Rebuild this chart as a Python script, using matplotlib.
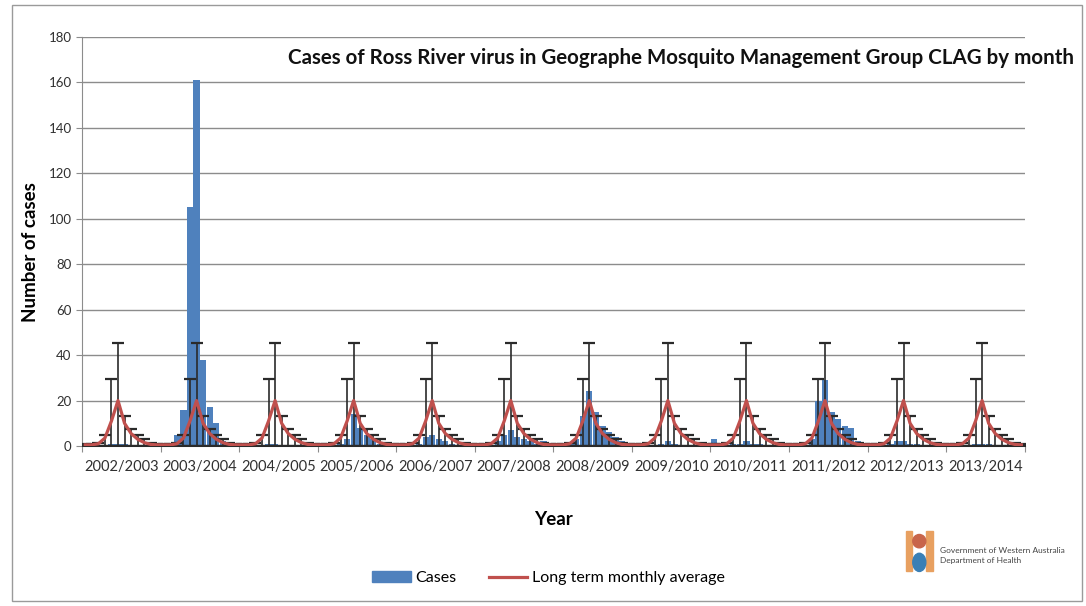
import numpy as np
import matplotlib
matplotlib.use("Agg")
import matplotlib.pyplot as plt
from matplotlib.patches import Rectangle, Ellipse

plt.rcParams['font.family'] = ['Lato', 'DejaVu Sans']

seasons = ["2002/2003", "2003/2004", "2004/2005", "2005/2006", "2006/2007", "2007/2008",
           "2008/2009", "2009/2010", "2010/2011", "2011/2012", "2012/2013", "2013/2014"]

# Monthly cases (July..June) per season
cases_2002_03 = [0, 0, 0, 0, 1, 1, 1, 0, 0, 0, 0, 0]
cases_2003_04 = [0, 0, 5, 16, 105, 161, 38, 17, 10, 2, 1, 0]
cases_2004_05 = [0, 0, 0, 0, 1, 1, 0, 0, 0, 0, 0, 0]
cases_2005_06 = [0, 0, 0, 1, 3, 14, 8, 5, 3, 1, 1, 0]
cases_2006_07 = [0, 0, 0, 1, 4, 5, 3, 2, 1, 0, 0, 0]
cases_2007_08 = [0, 0, 0, 2, 5, 7, 4, 3, 2, 1, 2, 0]
cases_2008_09 = [0, 0, 1, 3, 13, 24, 15, 9, 6, 4, 2, 0]
cases_2009_10 = [1, 0, 0, 0, 1, 2, 1, 0, 0, 0, 0, 0]
cases_2010_11 = [3, 0, 0, 1, 1, 2, 1, 1, 0, 0, 0, 0]
cases_2011_12 = [0, 0, 0, 3, 20, 29, 15, 12, 9, 8, 2, 0]
cases_2012_13 = [0, 0, 0, 1, 2, 2, 1, 1, 0, 0, 0, 0]
cases_2013_14 = [0, 0, 0, 0, 1, 1, 1, 0, 0, 0, 0, 0]

# Long term monthly average (July..June) and upper limit of its error bar
lt_average = [0.5, 0.5, 1.0, 3.5, 11.0, 20.0, 10.0, 5.5, 3.0, 1.5, 0.7, 0.5]
lt_upper = [0.8, 0.8, 1.5, 5.0, 29.5, 45.5, 13.0, 7.5, 5.0, 3.0, 1.5, 1.0]

all_cases = (cases_2002_03 + cases_2003_04 + cases_2004_05 + cases_2005_06 + cases_2006_07 +
             cases_2007_08 + cases_2008_09 + cases_2009_10 + cases_2010_11 + cases_2011_12 +
             cases_2012_13 + cases_2013_14)
n = len(all_cases)
x = np.arange(n)
avg = np.tile(lt_average, len(seasons))
upper = np.tile(lt_upper, len(seasons))

fig = plt.figure(figsize=(10.86, 6.06), dpi=100)
fig.patches.append(Rectangle((0.011, 0.008), 0.985, 0.984, transform=fig.transFigure,
                             fill=False, edgecolor='#9a9a9a', linewidth=1.0))
ax = fig.add_axes([0.0755, 0.264, 0.868, 0.675])

ax.set_ylim(0, 180)
ax.set_xlim(-0.5, n - 0.5)
ax.set_yticks(np.arange(0, 181, 20))
ax.yaxis.grid(True, color='#8c8c8c', linewidth=1.0)
ax.set_axisbelow(True)

ax.bar(x, all_cases, width=0.95, color='#4f81bd', zorder=2)
ax.errorbar(x, avg, yerr=[avg, upper - avg], fmt='none', ecolor='#2a2a2a',
            elinewidth=1.2, capsize=4, capthick=1.6, zorder=3)
ax.plot(x, avg, color='#c0504d', linewidth=2.3, zorder=4)

for s in ['top', 'right']:
    ax.spines[s].set_visible(False)
ax.spines['left'].set_color('#8c8c8c')
ax.spines['bottom'].set_color('#8c8c8c')

bounds = np.arange(0, n + 1, 12) - 0.5
ax.set_xticks(bounds)
ax.set_xticklabels([])
ax.tick_params(axis='x', which='major', length=4, color='#8c8c8c', direction='out')
ax.set_xticks(np.arange(len(seasons)) * 12 + 5.5, minor=True)
ax.set_xticklabels(seasons, minor=True, fontsize=10.5, color='#303030')
ax.tick_params(axis='x', which='minor', length=0, pad=10)
ax.tick_params(axis='y', length=4, color='#8c8c8c', labelsize=9.5, labelcolor='#303030')

ax.set_ylabel('Number of cases', fontsize=13.5, fontweight='bold')
ax.yaxis.set_label_coords(-0.046, 0.474)
ax.set_xlabel('Year', fontsize=13.5, fontweight='bold', labelpad=27)

fig.text(0.627, 0.904, 'Cases of Ross River virus in Geographe Mosquito Management Group CLAG by month',
         ha='center', va='center', fontsize=14.8, fontweight='bold', color='#111111')

# legend
lh = [Rectangle((0, 0), 1, 1, color='#4f81bd'),
      plt.Line2D([0], [0], color='#c0504d', linewidth=2.3)]
fig.legend(lh, ['Cases', 'Long term monthly average'], loc='center', ncol=2,
           bbox_to_anchor=(0.505, 0.046), frameon=False, fontsize=11.5,
           handlelength=2.4, columnspacing=2.0, handletextpad=0.3)

# logo (simplified crest + text)
fig.patches.append(Rectangle((0.834, 0.058), 0.006, 0.065, transform=fig.transFigure,
                             color='#e8a060', zorder=5))
fig.patches.append(Rectangle((0.853, 0.058), 0.006, 0.065, transform=fig.transFigure,
                             color='#e8a060', zorder=5))
fig.patches.append(Ellipse((0.8465, 0.072), 0.012, 0.03, transform=fig.transFigure,
                           color='#3a7fb5', zorder=5))
fig.patches.append(Ellipse((0.8465, 0.107), 0.012, 0.022, transform=fig.transFigure,
                           color='#c8654a', zorder=5))
fig.text(0.866, 0.083, 'Government of Western Australia\nDepartment of Health',
         fontsize=6, color='#444444', ha='left', va='center', linespacing=1.5)

fig.savefig('out.png', dpi=100)
